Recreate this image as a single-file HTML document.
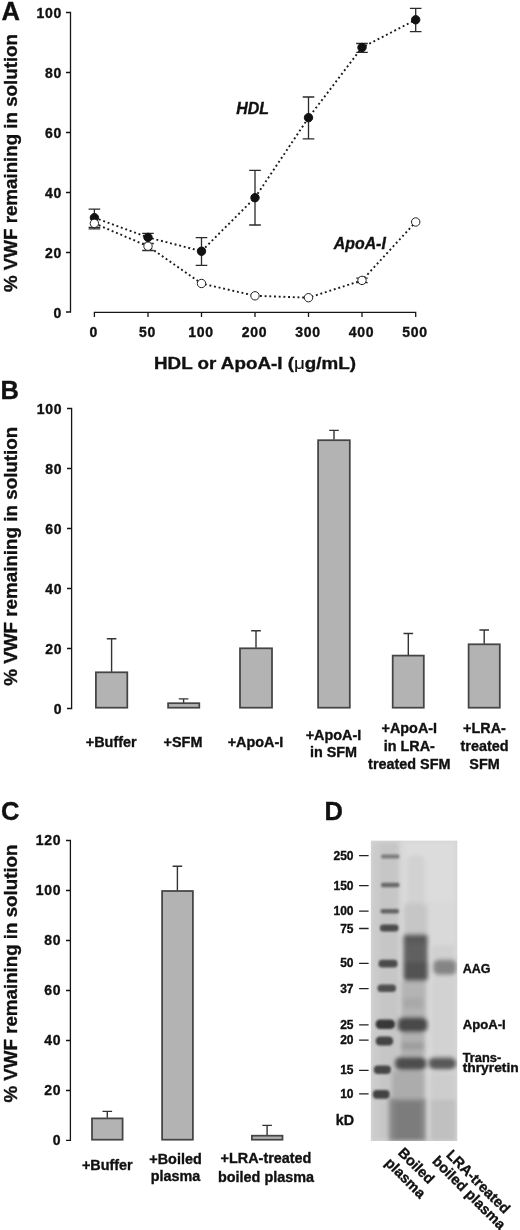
<!DOCTYPE html>
<html><head><meta charset="utf-8">
<style>
html,body{margin:0;padding:0;background:#fff;}
body{width:520px;height:1230px;overflow:hidden;}
svg{display:block;will-change:transform;}
text{font-family:"Liberation Sans",sans-serif;font-weight:bold;fill:#111;stroke:#111;stroke-width:0.35px;}
.tk{font-size:14px;letter-spacing:0.7px;}
.lb{font-size:14.4px;}
</style></head>
<body>
<svg width="520" height="1230" viewBox="0 0 520 1230">
<defs>
<filter id="b1" x="-50%" y="-50%" width="200%" height="200%"><feGaussianBlur stdDeviation="1.2"/></filter>
<filter id="b2" x="-50%" y="-50%" width="200%" height="200%"><feGaussianBlur stdDeviation="2.2"/></filter>
<filter id="b3" x="-50%" y="-50%" width="200%" height="200%"><feGaussianBlur stdDeviation="4"/></filter>
</defs>

<!-- ================= PANEL A ================= -->
<g id="panelA">
<text x="1.5" y="19.6" font-size="25.5">A</text>
<text transform="translate(17.3,163) rotate(-90)" text-anchor="middle" font-size="18.5" textLength="258" lengthAdjust="spacingAndGlyphs">% VWF remaining in solution</text>
<g stroke="#151515" stroke-width="1.3" fill="none">
<path d="M66,12.5H70.5V312H66M66,72.5H70.5M66,132.5H70.5M66,192.5H70.5M66,252.5H70.5"/>
<path d="M94.4,317V312.3H415.7V317M148,312.3V317M201.5,312.3V317M255,312.3V317M308.5,312.3V317M362,312.3V317"/>
</g>
<g class="tk" text-anchor="end">
<text x="62" y="17.8">100</text>
<text x="62" y="77.8">80</text>
<text x="62" y="137.8">60</text>
<text x="62" y="197.8">40</text>
<text x="62" y="257.8">20</text>
<text x="62" y="317.6">0</text>
</g>
<g class="tk" text-anchor="middle">
<text x="93.8" y="337">0</text>
<text x="147.4" y="337">50</text>
<text x="200.9" y="337">100</text>
<text x="254.4" y="337">200</text>
<text x="307.9" y="337">300</text>
<text x="361.4" y="337">400</text>
<text x="415.1" y="337">500</text>
</g>
<text x="154" y="368.8" font-size="16.9" textLength="202" lengthAdjust="spacingAndGlyphs">HDL or ApoA-I (<tspan font-weight="normal" style="stroke-width:0.15px">μ</tspan>g/mL)</text>
<text x="236.3" y="114.3" font-size="15.8" font-style="italic" textLength="32.7" lengthAdjust="spacingAndGlyphs">HDL</text>
<text x="333.8" y="248.8" font-size="15.8" font-style="italic" textLength="52" lengthAdjust="spacingAndGlyphs">ApoA-I</text>
<!-- dotted lines -->
<g stroke="#1a1a1a" stroke-width="1.9" fill="none" stroke-dasharray="1.9 2.8">
<polyline points="94.4,217.7 148,237.4 201.5,251.2 255,197.7 308.5,117.7 362,47.5 415.7,19.8"/>
<polyline points="94.4,223.4 148,246.2 201.5,283.5 255,295.8 308.5,297.7 362,280.4 415.7,222"/>
</g>
<!-- error bars -->
<g stroke="#2a2a2a" stroke-width="1.3" fill="none">
<path d="M94.4,209.2V228.9M88.6,209.2H100.2M88.6,228.9H100.2M88.6,227.3H100.2"/>
<path d="M148,233.4V250.5M142.2,233.4H153.8M142.2,243.5H153.8M142.2,250.5H153.8"/>
<path d="M201.5,237.7V265.4M195.7,237.7H207.3M195.7,265.4H207.3"/>
<path d="M255,170.4V225M249.2,170.4H260.8M249.2,225H260.8"/>
<path d="M308.5,97V138.8M302.7,97H314.3M302.7,138.8H314.3"/>
<path d="M362,43.5V52.3M356.2,43.5H367.8M356.2,52.3H367.8"/>
<path d="M415.7,8.3V31.7M409.9,8.3H421.5M409.9,31.7H421.5"/>
<path d="M362,278.2V282.6M356.3,278.2H367.7M356.3,282.6H367.7"/>
</g>
<!-- points -->
<g fill="#111" stroke="#111" stroke-width="1">
<circle cx="94.4" cy="217.7" r="4.2"/>
<circle cx="148" cy="237.4" r="4.2"/>
<circle cx="201.5" cy="251.2" r="4.2"/>
<circle cx="255" cy="197.7" r="4.2"/>
<circle cx="308.5" cy="117.7" r="4.2"/>
<circle cx="362" cy="47.5" r="4.2"/>
<circle cx="415.7" cy="19.8" r="4.2"/>
</g>
<g fill="#fff" stroke="#222" stroke-width="1">
<circle cx="94.4" cy="223.4" r="4.2"/>
<circle cx="148" cy="246.2" r="4.2"/>
<circle cx="201.5" cy="283.5" r="4.2"/>
<circle cx="255" cy="295.8" r="4.2"/>
<circle cx="308.5" cy="297.7" r="4.2"/>
<circle cx="362" cy="280.4" r="4.2"/>
<circle cx="415.7" cy="222" r="4.2"/>
</g>
</g>

<!-- ================= PANEL B ================= -->
<g id="panelB">
<text x="0.5" y="398.9" font-size="25.5">B</text>
<text transform="translate(17.2,556.2) rotate(-90)" text-anchor="middle" font-size="18.5" textLength="259" lengthAdjust="spacingAndGlyphs">% VWF remaining in solution</text>
<g stroke="#151515" stroke-width="1.3" fill="none">
<path d="M67,408.5H71.6V708.5H67M67,468.5H71.6M67,528.5H71.6M67,588.5H71.6M67,648.5H71.6"/>
</g>
<g class="tk" text-anchor="end">
<text x="62.2" y="413.8">100</text>
<text x="62.2" y="473.8">80</text>
<text x="62.2" y="533.8">60</text>
<text x="62.2" y="593.8">40</text>
<text x="62.2" y="653.8">20</text>
<text x="62.2" y="713.8">0</text>
</g>
<g fill="#b3b3b3" stroke="#444" stroke-width="1.75">
<rect x="95.9" y="672.3" width="31.4" height="35.4"/>
<rect x="168.1" y="703.2" width="31.2" height="4.5"/>
<rect x="240" y="648.3" width="32" height="59.4"/>
<rect x="318.1" y="440.2" width="31.7" height="267.5"/>
<rect x="392.7" y="655.6" width="31.1" height="52.1"/>
<rect x="468.6" y="644.3" width="31.2" height="63.4"/>
</g>
<g stroke="#333" stroke-width="1.4" fill="none">
<path d="M111.6,671.7V638.8M106.8,638.8H116.4"/>
<path d="M183.6,702.7V698.9M178.8,698.9H188.4"/>
<path d="M256,647.7V630.8M251.2,630.8H260.8"/>
<path d="M334,439.6V430.4M329.2,430.4H338.8"/>
<path d="M408.3,655V633.5M403.5,633.5H413.1"/>
<path d="M484.2,643.7V630M479.4,630H489"/>
</g>
<g class="lb" text-anchor="middle">
<text x="111.2" y="746.7">+Buffer</text>
<text x="183" y="746.7">+SFM</text>
<text x="255.5" y="746.7">+ApoA-I</text>
<text x="333.5" y="739.5">+ApoA-I</text>
<text x="333.5" y="757.4">in SFM</text>
<text x="409.3" y="732.8">+ApoA-I</text>
<text x="409.3" y="750.8">in LRA-</text>
<text x="409.3" y="768.6">treated SFM</text>
<text x="484.5" y="732.8">+LRA-</text>
<text x="484.5" y="750.8">treated</text>
<text x="484.5" y="768.6">SFM</text>
</g>
</g>

<!-- ================= PANEL C ================= -->
<g id="panelC">
<text x="1" y="819.6" font-size="25.5">C</text>
<text transform="translate(17.4,973.5) rotate(-90)" text-anchor="middle" font-size="18.5" textLength="258" lengthAdjust="spacingAndGlyphs">% VWF remaining in solution</text>
<g stroke="#151515" stroke-width="1.3" fill="none">
<path d="M66,840.5H70.4V1140.4H66M66,890.5H70.4M66,940.5H70.4M66,990.5H70.4M66,1040.5H70.4M66,1090.5H70.4"/>
</g>
<g class="tk" text-anchor="end">
<text x="61.3" y="845.3">120</text>
<text x="61.3" y="895.3">100</text>
<text x="61.3" y="945.3">80</text>
<text x="61.3" y="995.3">60</text>
<text x="61.3" y="1045.3">40</text>
<text x="61.3" y="1095.3">20</text>
<text x="61.3" y="1145.1">0</text>
</g>
<g fill="#b3b3b3" stroke="#444" stroke-width="1.75">
<rect x="92" y="1118.4" width="30.6" height="21.3"/>
<rect x="162.1" y="891" width="30.8" height="248.7"/>
<rect x="251.9" y="1135.7" width="30.6" height="4"/>
</g>
<g stroke="#333" stroke-width="1.4" fill="none">
<path d="M107.3,1117.8V1111.4M102.5,1111.4H112.1"/>
<path d="M177.4,890.4V866.2M172.6,866.2H182.2"/>
<path d="M267.1,1135.1V1125.4M262.3,1125.4H271.9"/>
</g>
<g class="lb" text-anchor="middle">
<text x="107.3" y="1170.4">+Buffer</text>
<text x="175.5" y="1163.8">+Boiled</text>
<text x="175.5" y="1180.8">plasma</text>
<text x="266" y="1163">+LRA-treated</text>
<text x="266" y="1181.8">boiled plasma</text>
</g>
</g>

<!-- ================= PANEL D ================= -->
<g id="panelD">
<text x="324.5" y="819.5" font-size="25.5">D</text>
<!-- gel -->
<rect x="370.8" y="840.6" width="86.5" height="300.4" fill="#d5d5d5"/>
<g filter="url(#b2)">
<rect x="372" y="842" width="8" height="298" fill="#cbcbcb"/>
<rect x="380" y="842" width="19" height="298" fill="#c6c6c6"/>
<rect x="400" y="842" width="28" height="298" fill="#d8d8d8"/>
<rect x="429" y="842" width="27" height="298" fill="#d9d9d9"/>
<rect x="405" y="842" width="50" height="60" fill="#dcdcdc"/>
</g>
<rect x="370.8" y="840.6" width="86.5" height="300.4" fill="none" stroke="#cfcfcf" stroke-width="0.6"/>
<!-- ladder -->
<g filter="url(#b1)">
<rect x="381" y="854.6" width="18.5" height="3.8" rx="1.9" fill="#7a7a7a"/>
<rect x="381" y="882.8" width="18.5" height="4.4" rx="2" fill="#686868"/>
<rect x="380.5" y="909" width="18.5" height="4.6" rx="2" fill="#636363"/>
<rect x="380" y="924.4" width="18.5" height="7" rx="3" fill="#4c4c4c"/>
<rect x="378.5" y="959.8" width="19" height="7.6" rx="3.5" fill="#4c4c4c"/>
<rect x="377.5" y="984.5" width="18.5" height="7.5" rx="3.5" fill="#505050"/>
<rect x="375.6" y="1019.5" width="19.4" height="9.5" rx="4.5" fill="#383838"/>
<rect x="375.6" y="1036.5" width="17.6" height="9" rx="4.5" fill="#444444"/>
<rect x="373.8" y="1065.5" width="17.2" height="8.5" rx="4" fill="#474747"/>
<rect x="372.8" y="1090" width="17" height="8.8" rx="4" fill="#424242"/>
</g>
<!-- lane 2 -->
<g filter="url(#b2)">
<rect x="407" y="855" width="18" height="55" rx="6" fill="#d2d2d2"/>
<rect x="404" y="903" width="23" height="34" rx="6" fill="#c6c6c6"/>
<rect x="403.5" y="934" width="24" height="47" rx="3" fill="#616161"/>
<rect x="404" y="936" width="23" height="8" rx="3" fill="#5a5a5a"/>
<rect x="404" y="962" width="23.5" height="18" rx="3" fill="#535353"/>
<rect x="401" y="981" width="25" height="37" fill="#b4b4b4"/>
<rect x="403" y="998" width="20" height="10" fill="#a8a8a8"/>
<rect x="397.7" y="1017" width="29.8" height="15.5" rx="6" fill="#4a4a4a"/>
<rect x="400" y="1033" width="25" height="23" fill="#b0b0b0"/>
<rect x="401" y="1042.5" width="23" height="7" rx="3" fill="#9c9c9c"/>
<rect x="395" y="1056.7" width="31.5" height="13.5" rx="6" fill="#4e4e4e"/>
<rect x="392" y="1071" width="33" height="27" fill="#acacac"/>
<rect x="389" y="1098.5" width="37" height="42.5" fill="#888888"/>
<rect x="395" y="1102" width="26" height="38" fill="#7c7c7c"/>
</g>
<!-- lane 3 -->
<g filter="url(#b2)">
<rect x="431" y="945" width="24" height="14" fill="#d0d0d0"/>
<rect x="433.3" y="959.6" width="23" height="15.4" rx="5" fill="#858585"/>
<rect x="432" y="976" width="24" height="82" fill="#d2d2d2"/>
<rect x="428.5" y="1057" width="27.8" height="12.6" rx="6" fill="#585858"/>
<rect x="430" y="1072" width="26" height="26" fill="#cdcdcd"/>
<rect x="430" y="1099" width="26" height="42" fill="#c0c0c0"/>
</g>
<rect x="370.8" y="1141" width="90" height="20" fill="#fff"/>
<rect x="457.3" y="835" width="10" height="310" fill="#fff"/>
<rect x="360" y="835" width="10.8" height="310" fill="#fff"/>
<rect x="360" y="830" width="110" height="10.6" fill="#fff"/>
<!-- marker labels -->
<g stroke="#222" stroke-width="1.3">
<path d="M359.1,855.6H368.6M359.1,885.6H368.6M359.1,911.2H368.6M359.1,928.5H368.6M359.1,963.4H368.6M359.1,988.7H368.6M359.1,1024.8H368.6M359.1,1040.2H368.6M359.1,1070.4H368.6M359.1,1093.9H368.6"/>
</g>
<g font-size="12" text-anchor="end">
<text x="353.5" y="859.6">250</text>
<text x="353.5" y="889.6">150</text>
<text x="353.5" y="915.2">100</text>
<text x="353.5" y="932.5">75</text>
<text x="353.5" y="967.4">50</text>
<text x="353.5" y="992.7">37</text>
<text x="353.5" y="1028.8">25</text>
<text x="353.5" y="1044.2">20</text>
<text x="353.5" y="1074.4">15</text>
<text x="353.5" y="1097.9">10</text>
</g>
<text x="354" y="1125.3" font-size="14.3" text-anchor="end">kD</text>
<g font-size="12.5">
<text x="462.7" y="973.1">AAG</text>
<text x="462.7" y="1029" textLength="43" lengthAdjust="spacingAndGlyphs">ApoA-I</text>
<text x="462.7" y="1061.9" textLength="38.5" lengthAdjust="spacingAndGlyphs">Trans-</text>
<text x="462.7" y="1072.2" textLength="56" lengthAdjust="spacingAndGlyphs">thryretin</text>
</g>
<g font-size="14.5" text-anchor="middle">
<g transform="translate(410,1172) rotate(45)">
<text x="0" y="-4">Boiled</text>
<text x="1" y="12.3">plasma</text>
</g>
<g transform="translate(472,1188) rotate(45)">
<text x="0" y="-4">LRA-treated</text>
<text x="1.3" y="10.3">boiled plasma</text>
</g>
</g>
</g>
</svg>
</body></html>
